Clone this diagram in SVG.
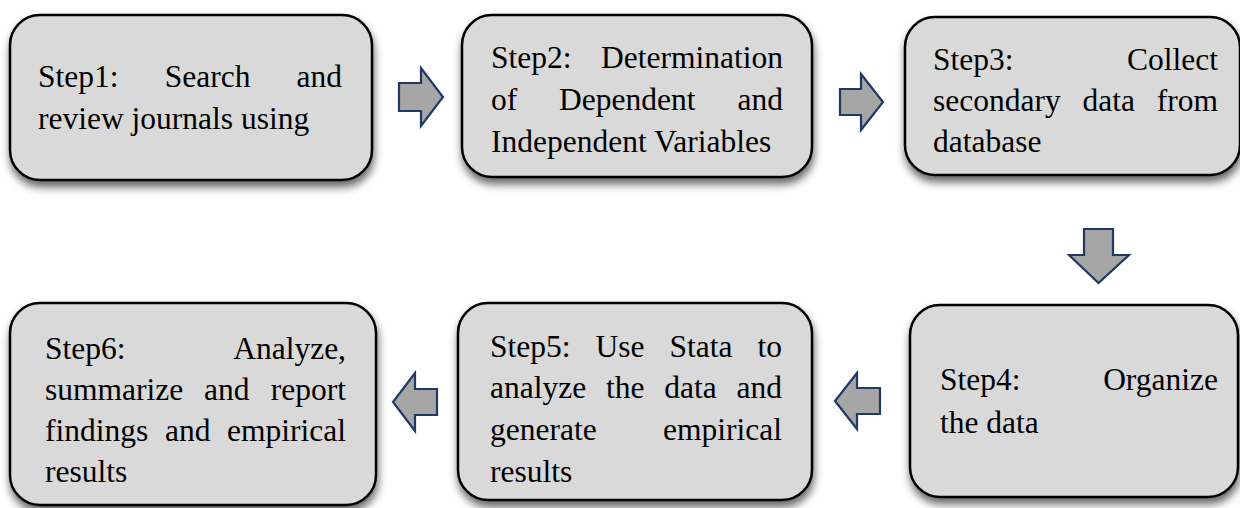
<svg xmlns="http://www.w3.org/2000/svg" width="1240" height="508" viewBox="0 0 1240 508">
  <defs>
    <filter id="shadow" x="-10%" y="-10%" width="120%" height="130%">
      <feDropShadow dx="1" dy="6" stdDeviation="4" flood-color="#000" flood-opacity="0.6"/>
    </filter>
  </defs>
  <style>
    .box { fill: #d9d9d9; stroke: #000; stroke-width: 2.5; filter: url(#shadow); }
    .lbl { font-family: "Liberation Serif", "Times New Roman", serif; font-size: 31.5px; fill: #000; }
    .end { text-anchor: end; }
    .arrow { fill: #a6a6a6; stroke: #1f3864; stroke-width: 2.2; stroke-linejoin: miter; }
  </style>
  <rect width="1240" height="508" fill="#fff"/>

  <!-- step boxes -->
  <g id="step1">
    <rect class="box" x="10" y="15" width="362" height="165" rx="30"/>
    <text class="lbl" y="87"><tspan x="38">Step1:</tspan><tspan x="164.7">Search</tspan><tspan class="end" x="342">and</tspan></text>
    <text class="lbl" x="38" y="129">review journals using</text>
  </g>

  <g id="step2">
    <rect class="box" x="462" y="15" width="350" height="162" rx="30"/>
    <text class="lbl" y="68"><tspan x="491">Step2:</tspan><tspan class="end" x="783">Determination</tspan></text>
    <text class="lbl" y="110"><tspan x="491">of</tspan><tspan x="559">Dependent</tspan><tspan class="end" x="783">and</tspan></text>
    <text class="lbl" x="491" y="152">Independent Variables</text>
  </g>

  <g id="step3">
    <rect class="box" x="905" y="17" width="335" height="158" rx="30"/>
    <text class="lbl" y="70"><tspan x="933">Step3:</tspan><tspan class="end" x="1218">Collect</tspan></text>
    <text class="lbl" y="111"><tspan x="933">secondary</tspan><tspan x="1082.5">data</tspan><tspan class="end" x="1218">from</tspan></text>
    <text class="lbl" x="933" y="152">database</text>
  </g>

  <g id="step4">
    <rect class="box" x="910" y="305" width="328" height="192" rx="30"/>
    <text class="lbl" y="390"><tspan x="940">Step4:</tspan><tspan class="end" x="1218">Organize</tspan></text>
    <text class="lbl" x="940" y="433">the data</text>
  </g>

  <g id="step5">
    <rect class="box" x="458" y="303" width="354" height="197" rx="30"/>
    <text class="lbl" y="357"><tspan x="490">Step5:</tspan><tspan x="595.5">Use</tspan><tspan x="669.5">Stata</tspan><tspan class="end" x="782">to</tspan></text>
    <text class="lbl" y="398"><tspan x="490">analyze</tspan><tspan x="606">the</tspan><tspan x="664.3">data</tspan><tspan class="end" x="782">and</tspan></text>
    <text class="lbl" y="440"><tspan x="490">generate</tspan><tspan class="end" x="782">empirical</tspan></text>
    <text class="lbl" x="490" y="482">results</text>
  </g>

  <g id="step6">
    <rect class="box" x="10" y="303" width="366" height="202" rx="30"/>
    <text class="lbl" y="359"><tspan x="45">Step6:</tspan><tspan class="end" x="346">Analyze,</tspan></text>
    <text class="lbl" y="400"><tspan x="45">summarize</tspan><tspan x="204">and</tspan><tspan class="end" x="346">report</tspan></text>
    <text class="lbl" y="441"><tspan x="45">findings</tspan><tspan x="165">and</tspan><tspan class="end" x="346">empirical</tspan></text>
    <text class="lbl" x="45" y="482">results</text>
  </g>

  <!-- block arrows between steps -->
  <g id="connectors">
    <polygon class="arrow" points="399,83 421,83 421,68 443,97 421,126 421,111 399,111"/>
    <polygon class="arrow" points="840,89 861,89 861,74 883,102 861,130 861,115 840,115"/>
    <polygon class="arrow" points="1084,229 1113,229 1113,255 1129,255 1098.5,283 1069,255 1084,255"/>
    <polygon class="arrow" points="880,388 857,388 857,373 835,401 857,429 857,414 880,414"/>
    <polygon class="arrow" points="437,389 415,389 415,373 393,402 415,431 415,415 437,415"/>
  </g>
</svg>
